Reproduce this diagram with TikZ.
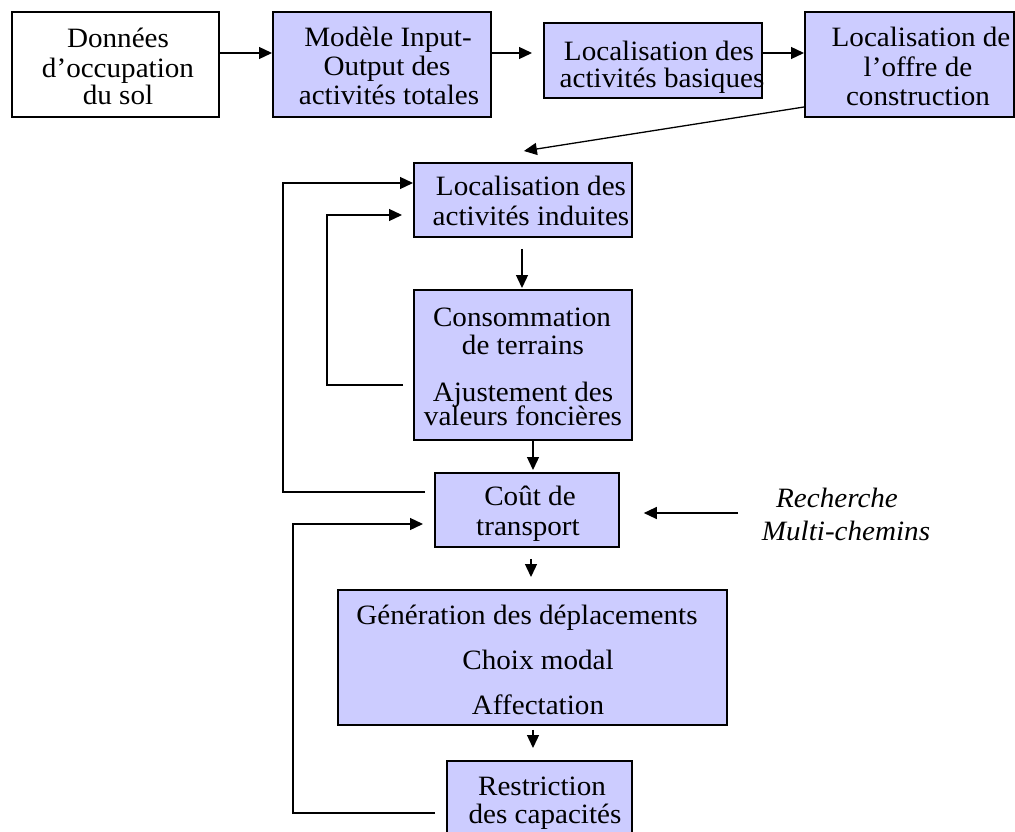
\documentclass[tikz,border=0pt]{standalone}
\usepackage{fontspec}
\setmainfont[FakeStretch=1.04]{Liberation Serif}
\usetikzlibrary{arrows.meta,calc}
\definecolor{boxblue}{RGB}{204,204,255}
\tikzset{
  box/.style={draw=black, line width=1.8pt, fill=boxblue, inner sep=0pt, anchor=north west},
  whitebox/.style={box, fill=white},
  txt/.style={inner sep=0pt, anchor=base, font=\fontsize{28}{30}\selectfont},
  itxt/.style={txt, font=\fontsize{28}{30}\selectfont\itshape},
  arr/.style={line width=1.3pt, -{Triangle[length=13pt,width=12pt]}},
  ln/.style={line width=1.3pt}
}
\begin{document}
\begin{tikzpicture}[x=1pt,y=-1pt]
\clip (0,0) rectangle (1015,832);
\fill[white] (0,0) rectangle (1015,832);

% boxes
\node[whitebox, minimum width=207pt, minimum height=105pt] (b1) at (11,11) {};
\node[box, minimum width=218pt, minimum height=105pt] (b2) at (272,11) {};
\node[box, minimum width=218pt, minimum height=75pt] (b3) at (543,22) {};
\node[box, minimum width=209pt, minimum height=105pt] (b4) at (804,11) {};
\node[box, minimum width=218pt, minimum height=74pt] (b5) at (413,162) {};
\node[box, minimum width=218pt, minimum height=150pt] (b6) at (413,289) {};
\node[box, minimum width=184pt, minimum height=74pt] (b7) at (434,472) {};
\node[box, minimum width=389pt, minimum height=135pt] (b8) at (337,589) {};
\node[box, minimum width=185pt, minimum height=90pt] (b9) at (446,760) {};

% texts
\node[txt] (t1a) at (118,48) {Données};
\node[txt] (t1b) at (118,78) {d’occupation};
\node[txt] (t1c) at (118,105) {du sol};

\node[txt] (t2a) at (388,47) {Modèle Input-};
\node[txt] (t2b) at (387,76) {Output des};
\node[txt] (t2c) at (389,105) {activités totales};

\node[txt] (t3a) at (659,61) {Localisation des};
\node[txt] (t3b) at (662,88) {activités basiques};

\node[txt] (t4a) at (921,47) {Localisation de};
\node[txt] (t4b) at (918,77) {l’offre de};
\node[txt] (t4c) at (918,106) {construction};

\node[txt] (t5a) at (531,196) {Localisation des};
\node[txt] (t5b) at (531,225) {activités induites};

\node[txt] (t6a) at (522,326) {Consommation};
\node[txt] (t6b) at (523,354) {de terrains};
\node[txt] (t6c) at (523,401) {Ajustement des};
\node[txt] (t6d) at (523,425) {valeurs foncières};

\node[txt] (t7a) at (530,505) {Coût de};
\node[txt] (t7b) at (528,535) {transport};

\node[txt] (t8a) at (527,624) {Génération des déplacements};
\node[txt] (t8b) at (538,669) {Choix modal};
\node[txt] (t8c) at (538,714) {Affectation};

\node[txt] (t9a) at (542,795) {Restriction};
\node[txt] (t9b) at (545,823) {des capacités};

\node[itxt] (r1) at (837,507) {Recherche};
\node[itxt] (r2) at (846,540) {Multi-chemins};

% connectors
\draw[arr] (b1.east |- 0,53) -- (b2.west |- 0,53);
\draw[arr, shorten >=11pt] (b2.east |- 0,53) -- (b3.west |- 0,53);
\draw[arr] (b3.east |- 0,53) -- (b4.west |- 0,53);
\coordinate (d5) at ($(b5.north)+(1,-11)$);
\draw[arr] (b4.west |- 0,107) -- (d5);
\draw[arr, shorten <=11pt, shorten >=1pt] (b5.south -| 522,0) -- (b6.north -| 522,0);
\draw[arr, shorten >=2pt] (b6.south -| 533,0) -- (b7.north -| 533,0);
\draw[arr, shorten <=11pt, shorten >=12pt] (b7.south -| 531,0) -- (b8.north -| 531,0);
\draw[arr, shorten <=4pt, shorten >=12pt] (b8.south -| 533,0) -- (b9.north -| 533,0);
\draw[arr, shorten >=24pt] (738,513) coordinate (rs) -- (b7.east |- rs);

% feedback loops
\draw[arr] ($(b7.west |- 0,492)+(-9,0)$) -- (283,492) -- (283,183) -- (b5.west |- 0,183);
\draw[arr, shorten >=11pt] ($(b6.west |- 0,385)+(-10,0)$) -- (327,385) -- (327,215) -- (b5.west |- 0,215);
\draw[arr, shorten >=11pt] ($(b9.west |- 0,813)+(-11,0)$) -- (293,813) -- (293,524) -- (b7.west |- 0,524);
\end{tikzpicture}
\end{document}
